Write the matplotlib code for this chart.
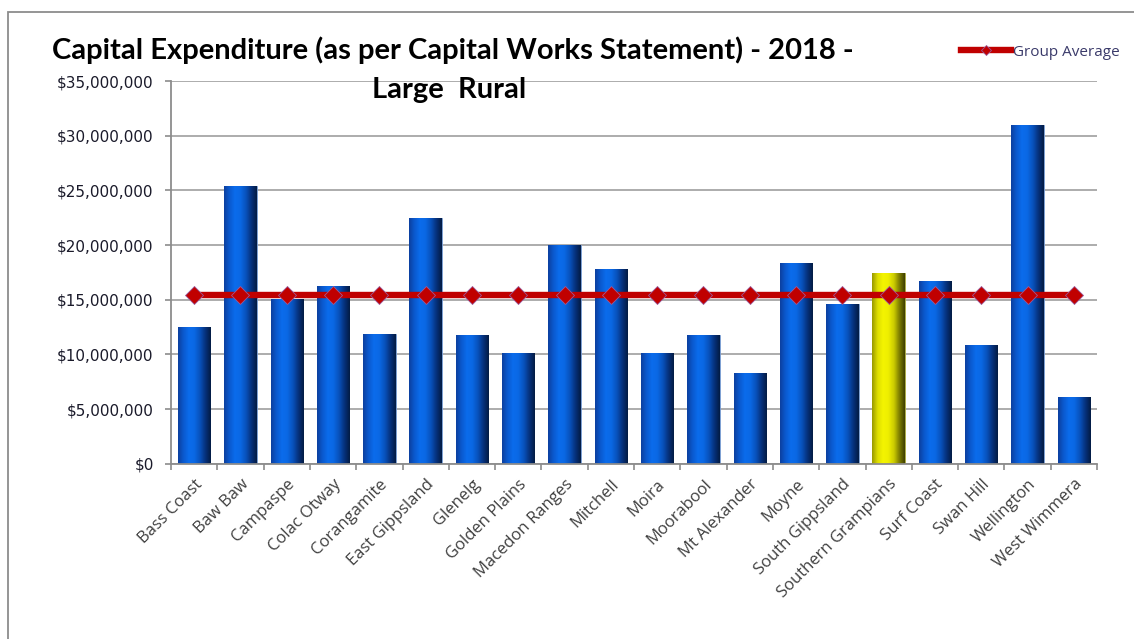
import numpy as np
import matplotlib
matplotlib.use("Agg")
import matplotlib.pyplot as plt
from matplotlib.patches import Rectangle
from matplotlib.ticker import FuncFormatter, MultipleLocator
from matplotlib.colors import LinearSegmentedColormap

councils = ["Bass Coast", "Baw Baw", "Campaspe", "Colac Otway", "Corangamite",
            "East Gippsland", "Glenelg", "Golden Plains", "Macedon Ranges", "Mitchell",
            "Moira", "Moorabool", "Mt Alexander", "Moyne", "South Gippsland",
            "Southern Grampians", "Surf Coast", "Swan Hill", "Wellington", "West Wimmera"]
capex = [12.46e6, 25.37e6, 15.1e6, 16.23e6, 11.88e6,
         22.5e6, 11.73e6, 10.08e6, 19.98e6, 17.8e6,
         10.08e6, 11.73e6, 8.31e6, 18.36e6, 14.6e6,
         17.45e6, 16.7e6, 10.82e6, 30.94e6, 6.12e6]
group_average = [15.44e6] * len(councils)
highlight = "Southern Grampians"

title_text = "Capital Expenditure (as per Capital Works Statement) - 2018 -"
subtitle_text = "Large  Rural"
legend_label = "Group Average"

W, H = 1134, 639
fig = plt.figure(figsize=(W / 100, H / 100), dpi=100)
fig.patch.set_facecolor("white")

# outer chart frame
fig.add_artist(Rectangle((8 / W, -0.05), 1.2, 1 - 12 / H + 0.05, transform=fig.transFigure,
                         fill=False, edgecolor="#8c8c8c", linewidth=1.3))

ax = fig.add_axes([171 / W, 1 - 463.7 / H, (1097 - 171) / W, (463.7 - 81) / H])
x = np.arange(len(councils))

blue_cmap = LinearSegmentedColormap.from_list(
    "cyl_blue", ["#0c40a0", "#0a5ad0", "#0b6cec", "#0a68e4", "#0852bc", "#06327e", "#031c44"])
yellow_cmap = LinearSegmentedColormap.from_list(
    "cyl_yel", ["#9a9a00", "#dede00", "#f4f400", "#eeee00", "#cccc00", "#808000", "#404000"])

bars = ax.bar(x, capex, width=0.70, color="#0a5fd8", edgecolor="#7f9fcf", linewidth=0.6, zorder=2)
grad = np.linspace(0, 1, 64).reshape(1, -1)
for name, b in zip(councils, bars):
    cm = yellow_cmap if name == highlight else blue_cmap
    if name == highlight:
        b.set_facecolor("#eeee00")
        b.set_edgecolor("#a0a040")
    x0, w, h = b.get_x(), b.get_width(), b.get_height()
    im = ax.imshow(grad, cmap=cm, aspect="auto", extent=[x0, x0 + w, 0, h],
                   zorder=2.5, interpolation="bilinear")
    im.set_clip_path(b)

ax.plot(x, group_average, color="#c00000", linewidth=4.6, marker="D", markersize=9.5,
        markerfacecolor="#c00000", markeredgecolor="#9a5a9a", markeredgewidth=0.6,
        zorder=4, label=legend_label)

ax.set_xlim(-0.5, len(councils) - 0.5)
ax.set_ylim(0, 35e6)
ax.yaxis.set_major_locator(MultipleLocator(5e6))
ax.yaxis.set_major_formatter(FuncFormatter(lambda v, p: "${:,.0f}".format(v)))
ax.grid(axis="y", color="#a6a6a6", linewidth=1.3, zorder=0)
ax.set_axisbelow(True)

ax.set_xticks(np.arange(len(councils) + 1) - 0.5, minor=False)
ax.set_xticklabels([])
ax.set_xticks(x, minor=True)
ax.set_xticklabels(councils, minor=True, rotation=45, ha="right", rotation_mode="anchor",
                   fontsize=12, color="#404040", family="Open Sans")
ax.tick_params(axis="x", which="minor", length=0, pad=9)
ax.tick_params(axis="x", which="major", length=4.5, color="#8c8c8c", width=1.2)
ax.tick_params(axis="y", length=4.5, color="#8c8c8c", width=1.2, labelsize=11,
               labelcolor="#1a1a2a", pad=8)
for lbl in ax.get_yticklabels():
    lbl.set_family("DejaVu Sans")

for s in ["top", "right"]:
    ax.spines[s].set_visible(False)
for s in ["left", "bottom"]:
    ax.spines[s].set_color("#8c8c8c")
    ax.spines[s].set_linewidth(1.3)

fig.text(52 / W, 1 - 50 / H, title_text, fontsize=21, fontweight="bold", family="Lato",
         ha="left", va="center", color="#000000")
fig.text(449 / W, 1 - 90 / H, subtitle_text, fontsize=21, fontweight="bold", family="Lato",
         ha="center", va="center", color="#000000")

leg = fig.legend(loc="center left", bbox_to_anchor=(953 / W, 1 - 52 / H), frameon=False,
                 handlelength=3.3, handletextpad=0.1, borderpad=0,
                 prop={"family": "Open Sans", "size": 11})
for t in leg.get_texts():
    t.set_color("#3a3a6a")
for hnd in leg.legend_handles:
    hnd.set_markersize(5)

fig.savefig("out.png", dpi=100, facecolor="white")
